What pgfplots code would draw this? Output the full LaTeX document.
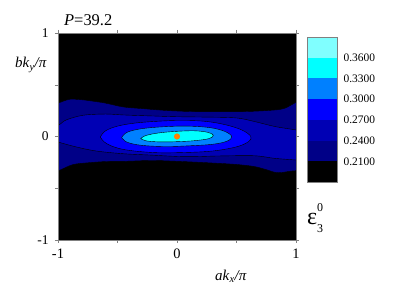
\documentclass[border=0pt]{standalone}
\usepackage{fontspec}
\setmainfont{Liberation Serif}
\usepackage{pgfplots}
\pgfplotsset{compat=1.18}
\definecolor{lvA}{RGB}{0,0,135}
\definecolor{lvB}{RGB}{0,0,180}
\definecolor{lvC}{RGB}{0,0,255}
\definecolor{lvD}{RGB}{0,128,255}
\definecolor{lvE}{RGB}{0,255,255}
\definecolor{lvF}{RGB}{128,255,255}
\definecolor{dotc}{RGB}{255,128,0}
\begin{document}
\begin{tikzpicture}
\path[use as bounding box] (0bp,0bp) rectangle (415bp,290bp);
\begin{axis}[at={(58bp,50bp)}, anchor=south west, width=238bp, height=207bp, scale only axis,
  xmin=-1, xmax=1, ymin=-1, ymax=1,
  axis background/.style={fill=black},
  axis on top=true,
  axis line style={draw=gray},
  xtick={-1,0,1}, ytick={-1,0,1},
  minor xtick={-0.5,0.5}, minor ytick={-0.5,0.5},
  tick align=outside, major tick length=3bp, minor tick length=3bp,
  every tick/.style={draw=gray},
  /pgf/number format/assume math mode=true,
  xticklabel style={font=\fontsize{14.5}{14.5}\selectfont, yshift=-2bp},
  yticklabel style={font=\fontsize{13.5}{13.5}\selectfont, xshift=-3bp},
]
% level 0.21
\addplot[fill=lvA, draw=black, line width=0.4pt, smooth, tension=0.55] coordinates {
 (-1.15,0.30) (-1,0.324) (-0.908,0.359) (-0.8,0.355) (-0.7,0.34) (-0.6,0.322) (-0.45,0.285)
 (-0.3,0.27) (-0.1,0.252) (0.1,0.242) (0.35,0.24) (0.6,0.242) (0.8,0.254) (0.9,0.27) (1.0,0.33) (1.15,0.42)
 (1.15,-0.35) (1.0,-0.33) (0.85,-0.35) (0.75,-0.32) (0.65,-0.29) (0.5,-0.27) (0.3,-0.256) (0.07,-0.243)
 (-0.2,-0.232) (-0.45,-0.24) (-0.6,-0.242) (-0.74,-0.253) (-0.876,-0.272) (-1.0,-0.333) (-1.15,-0.4)
} -- cycle;
% level 0.24
\addplot[fill=lvB, draw=black, line width=0.4pt, smooth, tension=0.55] coordinates {
 (-1.15,0.05) (-1,0.108) (-0.933,0.159) (-0.79,0.205) (-0.6,0.217) (-0.45,0.208) (-0.2,0.198)
 (0.0,0.191) (0.2,0.188) (0.49,0.18) (0.65,0.145) (0.82,0.097) (1.0,0.063) (1.15,0.03)
 (1.15,-0.24) (1.0,-0.227) (0.82,-0.211) (0.65,-0.186) (0.36,-0.188) (0.07,-0.195) (-0.23,-0.179)
 (-0.456,-0.166) (-0.68,-0.14) (-0.85,-0.1) (-1,-0.053) (-1.15,0.0)
} -- cycle;
% level 0.27
\addplot[fill=lvC, draw=black, line width=0.4pt, smooth, tension=0.6] coordinates {
 (-0.645,-0.005) (-0.6,0.055) (-0.5,0.1) (-0.35,0.13) (-0.15,0.148) (0.05,0.155) (0.25,0.145)
 (0.42,0.11) (0.55,0.06) (0.62,0.0) (0.6,-0.05) (0.5,-0.1) (0.3,-0.14) (0.05,-0.155) (-0.2,-0.155)
 (-0.45,-0.125) (-0.59,-0.07) (-0.645,-0.005)
} -- cycle;
% level 0.30
\addplot[fill=lvD, draw=black, line width=0.4pt, smooth, tension=0.6] coordinates {
 (-0.465,-0.01) (-0.42,0.04) (-0.3,0.075) (-0.1,0.095) (0.1,0.1) (0.28,0.085) (0.4,0.05) (0.46,0.0)
 (0.42,-0.045) (0.3,-0.075) (0.1,-0.09) (-0.1,-0.097) (-0.3,-0.085) (-0.42,-0.055) (-0.465,-0.01)
} -- cycle;
% level 0.33
\addplot[fill=lvE, draw=black, line width=0.4pt, smooth, tension=0.6] coordinates {
 (-0.305,-0.02) (-0.26,0.01) (-0.15,0.035) (0.0,0.05) (0.15,0.055) (0.26,0.04) (0.305,0.012)
 (0.27,-0.02) (0.15,-0.04) (0.0,-0.05) (-0.15,-0.052) (-0.26,-0.042) (-0.305,-0.02)
} -- cycle;
\addplot[only marks, mark=*, mark size=2.8bp, color=dotc] coordinates {(0,0)};
\end{axis}
% colour scale
\begin{axis}[at={(307bp,108bp)}, anchor=south west, width=30bp, height=145bp, scale only axis,
  xmin=0, xmax=1, ymin=0.18, ymax=0.39,
  axis on top=true,
  axis line style={draw=gray},
  xtick=\empty, ytick={0.21,0.24,0.27,0.30,0.33,0.36},
  major tick length=0pt,
  yticklabel pos=right,
  tick label style={font=\fontsize{11.5}{11.5}\selectfont},
  /pgf/number format/assume math mode=true,
  yticklabel style={/pgf/number format/.cd, fixed, fixed zerofill, precision=4, /tikz/.cd, xshift=3bp},
]
\addplot[fill=black, draw=none] coordinates {(0,0.18) (1,0.18) (1,0.21) (0,0.21)} -- cycle;
\addplot[fill=lvA, draw=none] coordinates {(0,0.21) (1,0.21) (1,0.24) (0,0.24)} -- cycle;
\addplot[fill=lvB, draw=none] coordinates {(0,0.24) (1,0.24) (1,0.27) (0,0.27)} -- cycle;
\addplot[fill=lvC, draw=none] coordinates {(0,0.27) (1,0.27) (1,0.30) (0,0.30)} -- cycle;
\addplot[fill=lvD, draw=none] coordinates {(0,0.30) (1,0.30) (1,0.33) (0,0.33)} -- cycle;
\addplot[fill=lvE, draw=none] coordinates {(0,0.33) (1,0.33) (1,0.36) (0,0.36)} -- cycle;
\addplot[fill=lvF, draw=none] coordinates {(0,0.36) (1,0.36) (1,0.39) (0,0.39)} -- cycle;
\end{axis}
\node[anchor=base west, inner sep=0pt, font=\fontsize{16.5}{16.5}\selectfont] at (64bp,264bp) {\textit{P}=39.2};
\node[anchor=base west, inner sep=0pt, font=\fontsize{15}{15}\selectfont] at (15bp,222bp) {\textit{bk}\textsubscript{\textit{y}}\textit{/π}};
\node[anchor=base west, inner sep=0pt, font=\fontsize{15}{15}\selectfont] at (215bp,10bp) {\textit{ak}\textsubscript{\textit{x}}\textit{/π}};
\node[anchor=base west, inner sep=0pt, font=\fontsize{24}{24}\selectfont] at (307bp,65bp) {ε\rlap{\raisebox{0.55em}{\fontsize{12}{12}\selectfont 0}}\raisebox{-0.3em}{\fontsize{12}{12}\selectfont 3}};
\end{tikzpicture}
\end{document}
